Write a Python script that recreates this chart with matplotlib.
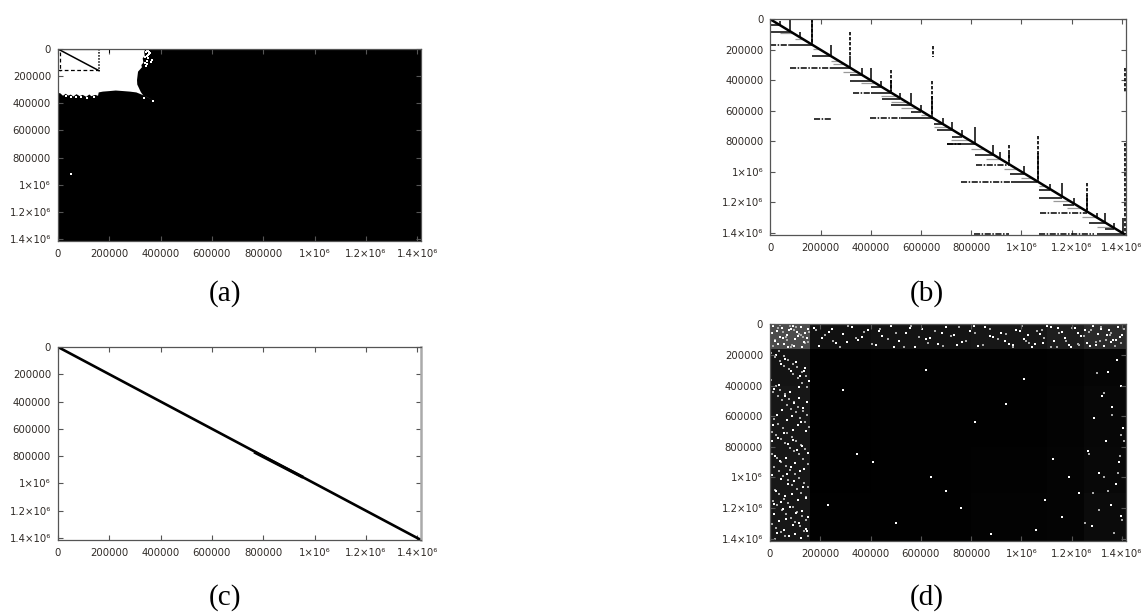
import numpy as np
import matplotlib
matplotlib.use("Agg")
import matplotlib.pyplot as plt

W, H = 1146, 612
XMAX = 1415000
tick_vals = [0, 200000, 400000, 600000, 800000, 1000000, 1200000, 1400000]
tick_labels = ["0", "200000", "400000", "600000", "800000", "1×10⁶", "1.2×10⁶", "1.4×10⁶"]
captions = ["(a)", "(b)", "(c)", "(d)"]

# panel a: outline of the white area, everything else is black
white_x = [0, 340000, 336000, 338000, 330000, 333000, 325000, 327000, 312000, 308000, 309000, 316000, 323000, 331500,
           351000, 377000, 344500, 325000, 305500, 280000, 253500, 225000, 201500, 175000, 158600, 156000,
           145000, 130000, 122000, 110000, 96000, 84500, 72000, 60000, 50000, 40000, 30000, 19500, 8000, 0]
white_y = [0, 0, 22000, 50000, 69000, 100000, 118000, 135000, 167000, 229000, 262000, 290000, 318000, 340000,
           359000, 384000, 352000, 335000, 320000, 314000, 310000, 306000, 310000, 314000, 320000, 345000,
           338000, 348000, 335000, 352000, 338000, 347000, 333000, 350000, 336000, 343000, 330000, 344500, 325000, 327000]
dark_x = [209000, 222000, 240000, 262000, 271000, 285000, 256000, 236000, 64000, 120000, 297000, 302000, 232000,
          20000, 48000, 77000, 103000, 138000, 36000, 88000, 125000, 60000, 150000, 12000, 292000, 300000, 306000, 296000]
dark_y = [270000, 250000, 265000, 232000, 262000, 215000, 200000, 290000, 245000, 240000, 180000, 258000, 120000,
          318000, 312000, 320000, 315000, 322000, 306000, 328000, 310000, 322000, 328000, 310000, 200000, 225000, 150000, 95000]
light_x = [350000, 358000, 345000, 352000, 362000, 348000, 342000, 355000, 365000, 50000, 336000, 372000,
           346000, 343000, 350000, 339000, 347000, 341000, 353000, 30000, 70000, 112000, 140000, 90000, 52000]
light_y = [15000, 30000, 55000, 70000, 95000, 110000, 128000, 40000, 80000, 920000, 358000, 382000,
           8000, 22000, 42000, 60000, 85000, 100000, 20000, 350000, 356000, 360000, 352000, 354000, 352000]

# panel b: spikes above the diagonal
spike_x = [40000, 80000, 120000, 165000, 240000, 317000, 364000, 400000, 442000, 480000, 518000, 560000, 600000, 644000,
           686000, 722000, 762000, 814000, 886000, 915000, 950000, 1010000, 1064000, 1114000, 1163000, 1209000,
           1260000, 1300000, 1333000, 1370000, 1405000]
spike_top = [10000, 0, 85000, 0, 168000, 240000, 320000, 321000, 404000, 400000, 485000, 485000, 562000, 500000,
             650000, 671000, 725000, 708000, 824000, 872000, 880000, 962000, 880000, 1082000, 1071000, 1169000,
             1150000, 1272000, 1272000, 1337000, 1305000]
dash_spike_x = [165000, 317000, 480000, 644000, 646000, 950000, 1064000, 1260000, 1411000, 1412000]
dash_spike_y0 = [0, 81000, 332000, 404000, 172000, 824000, 765000, 1075000, 320000, 813000]
dash_spike_y1 = [155000, 240000, 470000, 620000, 245000, 930000, 1050000, 1250000, 480000, 1410000]

# panel b: rows left of the diagonal
row_y = [37000, 81000, 170000, 240000, 321000, 365000, 402000, 441000, 485000, 522000, 562000, 605000, 649000,
         688000, 725000, 770000, 820000, 890000, 1016000, 1069000, 1119000, 1169000, 1217000, 1338000, 1377000, 1408000]
row_x0 = [0, 0, 80000, 167000, 240000, 317000, 317000, 400000, 400000, 446000, 480000, 560000, 520000,
          650000, 665000, 722000, 705000, 816000, 955000, 960000, 1068000, 1068000, 1167000, 1267000, 1333000, 1300000]
row_x1 = [37000, 80000, 165000, 240000, 317000, 364000, 400000, 442000, 480000, 518000, 560000, 600000, 644000,
          686000, 722000, 762000, 814000, 886000, 1010000, 1060000, 1114000, 1163000, 1209000, 1333000, 1370000, 1400000]
dash_row_y = [170000, 321000, 485000, 649000, 651000, 953000, 1069000, 1268000, 1410000, 1410000, 820000]
dash_row_x0 = [0, 78000, 330000, 397000, 175000, 820000, 758000, 1072000, 810000, 1070000, 705000]
dash_row_x1 = [80000, 240000, 400000, 520000, 242000, 950000, 960000, 1260000, 950000, 1290000, 760000]
grey_row_y = [90000, 130000, 195000, 275000, 290000, 345000, 420000, 500000, 540000, 585000, 630000, 705000, 790000, 850000,
              915000, 980000, 1040000, 1095000, 1195000, 1240000, 1300000, 1360000]
grey_row_x0 = [40000, 100000, 170000, 240000, 250000, 290000, 360000, 440000, 480000, 520000, 600000, 650000, 720000, 800000,
               860000, 930000, 1000000, 1070000, 1125000, 1180000, 1240000, 1300000]
grey_row_x1 = [90000, 130000, 195000, 275000, 290000, 345000, 420000, 500000, 540000, 585000, 630000, 705000, 790000, 850000,
               915000, 980000, 1040000, 1095000, 1195000, 1240000, 1300000, 1360000]

# panel c: band along the diagonal
diag_x = [0, 760000, 900000, 1410000]
diag_y = [0, 760000, 900000, 1410000]
wide_x = [770000, 950000]
wide_y = [775000, 950000]

# panel d: brightness of the blocks
block_x = [0, 160000, 400000, 800000, 1100000, 1250000, XMAX]
block_y = [0, 160000, 400000, 800000, 1100000, XMAX]
block_level = [[0.30, 0.07, 0.08, 0.09, 0.12, 0.17],
               [0.08, 0.002, 0.004, 0.005, 0.01, 0.02],
               [0.09, 0.002, 0.004, 0.006, 0.012, 0.03],
               [0.09, 0.002, 0.005, 0.01, 0.018, 0.035],
               [0.09, 0.005, 0.007, 0.012, 0.018, 0.045]]

# panel d: brighter specks read by eye
speck_x = [12000, 28000, 47000, 66000, 82000, 101000, 122000, 141000, 18000, 38000, 56000, 75000, 94000, 113000, 135000, 150000,
           8000, 33000, 52000, 71000, 90000, 108000, 127000, 146000, 22000, 43000, 61000, 85000, 104000, 118000, 139000, 155000,
           15000, 36000, 58000, 78000, 97000, 116000, 131000, 148000, 26000, 49000, 68000, 88000, 110000, 125000, 143000, 10000,
           31000, 54000, 73000, 92000, 106000, 129000, 152000, 20000, 41000, 63000, 83000, 100000, 120000, 137000, 6000, 45000,
           70000, 96000, 133000, 24000, 59000, 87000, 112000, 145000, 14000, 50000, 79000, 103000, 128000, 151000, 35000, 65000,
           91000, 117000, 142000, 29000, 55000, 76000, 99000, 124000, 149000, 17000, 44000, 67000, 93000, 115000, 136000, 9000,
           176000, 205000, 236000, 262000, 291000, 325000, 352000, 388000, 421000, 447000, 480000, 512000, 541000, 575000, 606000, 638000,
           667000, 701000, 733000, 762000, 796000, 828000, 856000, 889000, 918000, 951000, 979000, 1012000, 1041000, 1073000, 1102000, 1131000,
           1160000, 1188000, 1213000, 1238000, 1262000, 1284000, 1306000, 1328000, 1347000, 1366000, 1384000, 1401000, 195000, 248000, 307000, 366000,
           433000, 495000, 558000, 621000, 684000, 745000, 812000, 874000, 936000, 995000, 1056000, 1117000, 1175000, 1226000, 1273000, 1318000,
           1356000, 1392000, 1340000, 1375000, 1298000, 1252000, 1198000, 1145000, 1085000, 1025000, 965000,
           1380000, 1345000, 1398000, 1322000, 1362000, 1289000, 1405000, 1337000, 1265000, 1390000, 1310000, 1375000, 1230000, 1355000, 1398000, 1280000,
           1190000, 1160000, 1125000, 1095000, 1060000, 1010000, 940000, 880000, 815000, 760000, 700000, 640000, 620000, 500000, 410000, 345000, 290000, 230000]
speck_y = [12000, 45000, 22000, 70000, 33000, 96000, 18000, 60000, 110000, 80000, 128000, 40000, 140000, 76000, 115000, 28000,
           60000, 130000, 92000, 147000, 10000, 52000, 148000, 92000, 200000, 262000, 225000, 305000, 248000, 340000, 285000, 372000,
           420000, 396000, 468000, 440000, 515000, 478000, 545000, 505000, 590000, 560000, 628000, 602000, 660000, 635000, 695000, 655000,
           740000, 712000, 782000, 755000, 818000, 796000, 840000, 862000, 895000, 875000, 930000, 905000, 960000, 945000, 985000, 1010000,
           1040000, 1025000, 1062000, 1088000, 1120000, 1105000, 1148000, 1132000, 1175000, 1205000, 1190000, 1232000, 1218000, 1258000, 1285000, 1270000,
           1310000, 1298000, 1335000, 1360000, 1345000, 1385000, 1372000, 1396000, 1350000, 1240000, 1160000, 980000, 690000, 410000, 305000, 765000,
           22000, 88000, 48000, 125000, 66000, 18000, 104000, 40000, 136000, 75000, 12000, 112000, 55000, 146000, 30000, 92000,
           130000, 20000, 70000, 118000, 44000, 142000, 16000, 84000, 58000, 126000, 34000, 98000, 150000, 62000, 14000, 110000,
           50000, 132000, 26000, 78000, 122000, 10000, 66000, 140000, 36000, 102000, 20000, 72000, 142000, 32000, 118000, 84000,
           46000, 148000, 24000, 96000, 60000, 134000, 10000, 76000, 108000, 42000, 128000, 18000, 90000, 54000, 144000, 28000,
           115000, 82000, 68000, 104000, 138000, 38000, 148000, 22000, 120000, 70000, 136000,
           230000, 310000, 400000, 470000, 540000, 610000, 680000, 760000, 830000, 900000, 970000, 1040000, 1100000, 1180000, 1250000, 1320000,
           1000000, 1260000, 880000, 1150000, 1340000, 360000, 520000, 1370000, 640000, 1200000, 1090000, 1000000, 300000, 1300000, 900000, 850000, 430000, 1180000]

# panel d: dimmer specks, mostly the left strip and the top band
dim_x = [5000, 21000, 39000, 57000, 74000, 92000, 110000, 128000, 146000, 13000, 30000, 48000, 66000, 84000, 102000, 120000, 138000, 154000,
         7000, 25000, 43000, 61000, 79000, 97000, 115000, 133000, 151000, 16000, 34000, 52000, 70000, 88000, 106000, 124000, 142000, 11000,
         28000, 46000, 64000, 82000, 100000, 118000, 136000, 153000, 19000, 37000, 55000, 73000, 91000, 109000, 127000, 145000, 4000, 23000,
         41000, 59000, 77000, 95000, 113000, 131000, 149000, 15000, 33000, 51000, 69000, 87000, 105000, 123000, 141000, 9000, 27000, 45000,
         63000, 81000, 99000, 117000, 135000, 152000, 18000, 36000, 54000, 72000, 90000, 108000, 126000, 144000, 6000, 24000, 42000, 60000,
         78000, 96000, 114000, 132000, 150000, 12000, 32000, 50000, 68000, 86000, 104000, 122000, 140000, 156000, 20000, 40000, 62000, 83000,
         183000, 217000, 252000, 279000, 312000, 341000, 374000, 405000, 438000, 469000, 503000, 534000, 561000, 594000, 629000, 656000, 689000, 721000,
         752000, 781000, 815000, 847000, 874000, 906000, 939000, 968000, 1003000, 1030000, 1062000, 1091000, 1118000, 1149000, 1177000, 1203000, 1229000, 1251000,
         1275000, 1296000, 1317000, 1336000, 1356000, 1373000, 1392000, 1408000, 1224000, 1268000, 1311000, 1352000, 1396000, 1141000, 1084000, 1020000,
         1300000, 1330000, 1360000, 1395000, 1270000, 1385000, 1345000, 1310000, 1402000, 1370000, 1285000, 1330000, 1392000, 1255000, 1355000, 1408000]
dim_y = [190000, 215000, 240000, 270000, 295000, 325000, 350000, 385000, 410000, 445000, 465000, 495000, 525000, 555000, 575000, 610000, 640000, 670000,
         705000, 725000, 750000, 775000, 805000, 830000, 850000, 880000, 910000, 935000, 955000, 990000, 1015000, 1050000, 1075000, 1100000, 1125000, 1155000,
         1180000, 1210000, 1240000, 1265000, 1290000, 1320000, 1350000, 1380000, 1400000, 175000, 205000, 235000, 260000, 280000, 310000, 335000, 365000, 400000,
         430000, 455000, 485000, 510000, 540000, 565000, 595000, 620000, 650000, 680000, 710000, 735000, 765000, 790000, 815000, 845000, 870000, 900000,
         925000, 950000, 975000, 1005000, 1035000, 1060000, 1085000, 1110000, 1140000, 1170000, 1195000, 1225000, 1250000, 1275000, 1305000, 1330000, 1355000, 1385000,
         8000, 35000, 62000, 85000, 118000, 142000, 25000, 52000, 105000, 135000, 15000, 72000, 122000, 48000, 100000, 5000, 82000, 150000,
         35000, 70000, 108000, 145000, 12000, 92000, 52000, 130000, 28000, 98000, 60000, 148000, 10000, 85000, 125000, 45000, 140000, 75000,
         20000, 110000, 55000, 134000, 30000, 96000, 66000, 148000, 14000, 122000, 42000, 88000, 150000, 60000, 106000, 24000, 132000, 78000,
         40000, 118000, 16000, 100000, 60000, 140000, 86000, 30000, 126000, 50000, 108000, 72000, 124000, 146000, 40000, 112000,
         320000, 450000, 590000, 720000, 850000, 970000, 1090000, 1210000, 1280000, 1360000, 1100000, 1000000, 860000, 1300000, 1180000, 760000]

fig = plt.figure(figsize=(W / 100, H / 100), dpi=100)


def panel(x0, x1, y0, y1, bg="white"):
    ax = fig.add_axes([x0 / W, 1 - y1 / H, (x1 - x0) / W, (y1 - y0) / H], facecolor=bg)
    ax.set_xlim(0, XMAX)
    ax.set_ylim(XMAX, 0)
    ax.set_xticks(tick_vals)
    ax.set_xticklabels(tick_labels)
    ax.set_yticks(tick_vals)
    ax.set_yticklabels(tick_labels)
    ax.tick_params(direction="in", top=True, right=True, length=3.6, width=0.8, color="#555555",
                   labelsize=7.3, labelcolor="#2f2a26", pad=5)
    ax.tick_params(axis="x", pad=6)
    for s in ax.spines.values():
        s.set_color("#555555")
        s.set_linewidth(0.9)
    return ax


# (a)
ax = panel(58, 421, 49, 241, "black")
ax.fill(white_x, white_y, color="white", lw=0)
ax.plot([0, 160000], [0, 160000], color="black", lw=1.1)
ax.plot([0, 160000], [2500, 2500], color="black", lw=1.6)
ax.plot([0, 160000], [158000, 158000], color="black", lw=0.9, ls=(0, (3, 2)))
ax.plot([160000, 160000], [0, 160000], color="black", lw=1.1, ls=(0, (1, 1)))
ax.plot([6000, 6000], [20000, 160000], color="black", lw=0.9, ls=(0, (3, 2)))
ax.plot([200000, 200000], [0, 22000], color="black", lw=0.7)
ax.scatter(dark_x, dark_y, s=0.5, marker="s", color="#222222", lw=0)
ax.scatter(light_x, light_y, s=0.6, marker="s", color="white", lw=0)

# (b)
ax = panel(770.3, 1125.7, 19.3, 235)
ax.hlines(grey_row_y, grey_row_x0, grey_row_x1, color="#999999", lw=0.9)
ax.plot([0, 1410000], [0, 1410000], color="black", lw=1.8)
ax.vlines(spike_x, spike_top, spike_x, color="black", lw=1.1)
ax.vlines(dash_spike_x, dash_spike_y0, dash_spike_y1, color="black", lw=1.2, linestyles=[(0, (2, 1))])
ax.hlines(row_y, row_x0, row_x1, color="black", lw=1.1)
ax.hlines(dash_row_y, dash_row_x0, dash_row_x1, color="black", lw=1.1, linestyles=[(0, (4, 1, 1, 1))])

# (c)
ax = panel(58, 421, 347, 540)
ax.plot(diag_x, diag_y, color="black", lw=1.9)
ax.plot(wide_x, wide_y, color="black", lw=2.3)
ax.spines["right"].set_color("#aaaaaa")
ax.spines["right"].set_linewidth(1.8)

# (d)
ax = panel(770, 1125.7, 324.3, 541, "black")
ax.pcolormesh(block_x, block_y, np.array(block_level), cmap="gray", vmin=0, vmax=1, lw=0)
ax.scatter(dim_x, dim_y, s=1.0, marker="s", color="#aaaaaa", lw=0)
ax.scatter(speck_x, speck_y, s=1.0, marker="s", color="white", lw=0)
ax.set_xlim(0, XMAX)
ax.set_ylim(XMAX, 0)

for c, (cx, cy) in zip(captions, [(225, 294), (927, 294), (225, 598), (927, 598)]):
    fig.text(cx / W, 1 - cy / H, c, family="Liberation Serif", fontsize=21, color="black",
             ha="center", va="center")

fig.savefig("out.png", dpi=100)
